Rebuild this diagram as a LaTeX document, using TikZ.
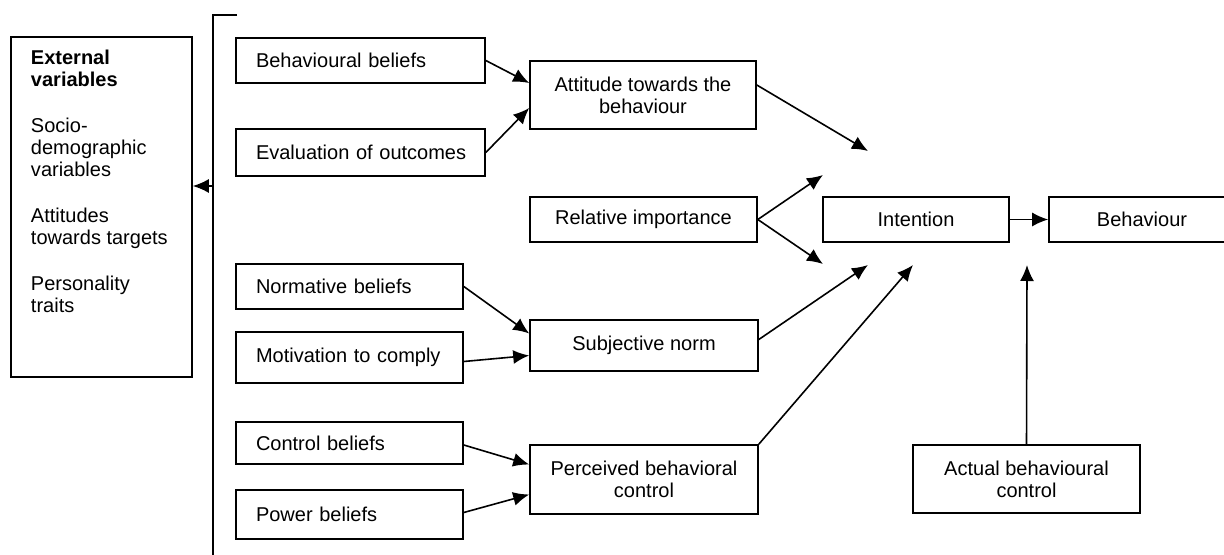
\documentclass[tikz,border=0pt]{standalone}
\usepackage{fontspec}
\setmainfont{Liberation Sans}
\usetikzlibrary{arrows.meta}

\tikzset{
    box/.style={draw, align=center, font=\fontsize{10}{11}\selectfont},
    leftbox/.style={draw, align=left, inner xsep=10pt, font=\fontsize{10}{11}\selectfont},
    arr/.style={-{Latex[length=8pt,width=7pt]}}
}

\begin{document}
\begin{tikzpicture}[x=0.5pt, y=-0.5pt, line width=0.8pt]
    \useasboundingbox (0,0) rectangle (1224,555);

    % Belief boxes
    \node[leftbox, text width=104.5pt, minimum height=22.5pt] (bb) at (360.5,60.5) {Behavioural beliefs};
    \node[leftbox, text width=104.5pt, minimum height=23.5pt] (eo) at (360.5,152.5) {\mbox{Evaluation of outcomes}};
    \node[leftbox, text width=93.5pt, minimum height=22.5pt] (nb) at (349.5,286.5) {Normative beliefs};
    \node[leftbox, text width=93.5pt, minimum height=25.5pt] (mc) at (349.5,357.5) {Motivation to comply};
    \node[leftbox, text width=93.5pt, minimum height=21pt] (cb) at (349.5,443) {Control beliefs};
    \node[leftbox, text width=93.5pt, minimum height=24.5pt] (pb) at (349.5,514.5) {Power beliefs};

    % Middle column
    \node[box, minimum width=113pt, minimum height=34pt] (att) at (643,95) {Attitude towards the\\behaviour};
    \node[box, minimum width=113.5pt, minimum height=22.5pt] (ri) at (643.5,219.5) {Relative importance};
    \node[box, minimum width=114pt, minimum height=25.5pt] (sn) at (644,345.5) {Subjective norm};
    \node[box, minimum width=114pt, minimum height=34.5pt] (pbc) at (644,479.5) {Perceived behavioral\\control};

    % Intention and behaviour
    \node[box, minimum width=93pt, minimum height=22.5pt] (int) at (916,219.5) {Intention};
    \node[box, minimum width=93pt, minimum height=22.5pt] (beh) at (1142,219.5) {Behaviour};
    \node[box, minimum width=113.5pt, minimum height=34pt] (abc) at (1026.5,479) {Actual behavioural\\control};

    % External variables
    \node[draw, minimum width=90.5pt, minimum height=170pt] (ext) at (101.5,207) {};
    \node[anchor=north west, inner sep=0pt, align=left, font=\fontsize{10}{11}\selectfont]
        (exttxt) at ([xshift=10pt,yshift=-6.5pt]ext.north west)
        {\textbf{External}\\\textbf{variables}\\[12pt]Socio-\\demographic\\variables\\[12pt]Attitudes\\towards targets\\[12pt]Personality\\traits};

    % Bracket
    \coordinate (brtop) at (213,15);
    \coordinate (brbot) at (213,560);
    \coordinate (brmid) at (213,186);
    \draw ([xshift=12pt]brtop) -- (brtop) -- (brbot);
    \draw[arr] (brmid) -- (brmid -| ext.east);

    % Free arrow ends
    \coordinate (in1) at (868,151);
    \coordinate (in2) at (823,175);
    \coordinate (in3) at (823,264);
    \coordinate (in4) at (868,265);
    \coordinate (in5) at (913,265);
    \coordinate (in6) at (1027,265);

    % Arrows
    \draw[arr] (bb.east) -- ([yshift=6pt]att.west);
    \draw[arr] (eo.east) -- ([yshift=-6.5pt]att.west);
    \draw[arr] ([yshift=5pt]att.east) -- (in1);
    \draw[arr] (ri.east) -- (in2);
    \draw[arr] (ri.east) -- (in3);
    \draw[arr] (nb.east) -- ([yshift=6pt]sn.west);
    \draw[arr] ([yshift=-2pt]mc.east) -- ([yshift=-5pt]sn.west);
    \draw[arr] ([yshift=3pt]sn.east) -- (in4);
    \draw[arr] ([yshift=-1pt]cb.east) -- ([yshift=7.5pt]pbc.west);
    \draw[arr] ([yshift=1pt]pb.east) -- ([yshift=-7.5pt]pbc.west);
    \draw[arr] (pbc.north east) -- (in5);
    \draw[arr] (abc.north) -- (in6);
    \draw[arr] (int.east) -- (beh.west);
\end{tikzpicture}
\end{document}
